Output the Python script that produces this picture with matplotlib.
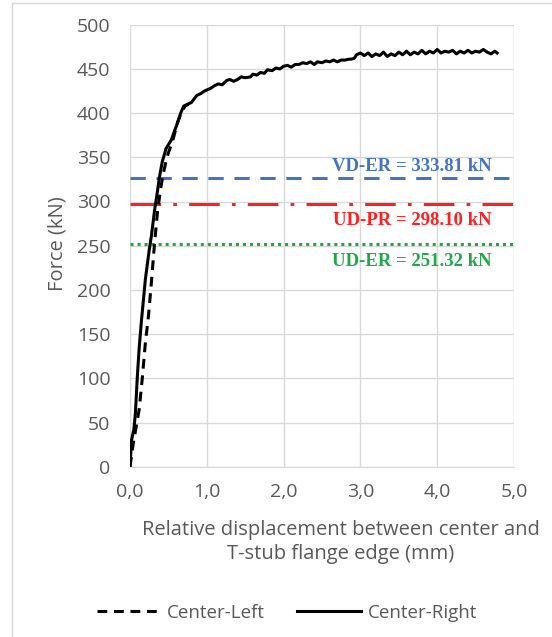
import matplotlib
matplotlib.use("Agg")
import matplotlib.pyplot as plt
from matplotlib.lines import Line2D

# ---------------- data ----------------
right_x = [0.0, 0.02, 0.05, 0.07, 0.095, 0.12, 0.15, 0.20, 0.25, 0.28, 0.32, 0.36, 0.38,
           0.42, 0.47, 0.54, 0.58, 0.62, 0.66, 0.70, 0.75, 0.80, 0.87, 0.92, 0.97,
           1.05, 1.10, 1.15, 1.20, 1.26, 1.30, 1.35, 1.40, 1.45, 1.50, 1.57, 1.60,
           1.65, 1.70, 1.75, 1.79, 1.85, 1.90, 1.95, 2.00, 2.05, 2.10, 2.15, 2.20,
           2.25, 2.30, 2.35, 2.40, 2.44, 2.50, 2.55, 2.60, 2.65, 2.70, 2.75, 2.80,
           2.85, 2.88, 2.92, 2.95, 3.00, 3.05, 3.10, 3.15, 3.20, 3.25, 3.30, 3.35,
           3.40, 3.45, 3.50, 3.55, 3.60, 3.65, 3.70, 3.75, 3.80, 3.85, 3.90, 3.95,
           4.00, 4.05, 4.10, 4.15, 4.20, 4.25, 4.30, 4.35, 4.40, 4.45, 4.50, 4.55,
           4.60, 4.65, 4.70, 4.75, 4.78]
right_y = [0, 30, 42, 60, 101, 135, 166, 212, 245, 262, 290, 313, 326,
           345, 360, 370, 380, 389, 400, 408, 410, 412, 420, 422, 425,
           428, 431, 433, 432, 437, 438, 436, 438, 441, 440, 441, 444,
           443, 446, 445, 449, 448, 451, 450, 453, 454, 452, 455, 455,
           457, 456, 458, 455, 458, 457, 459, 458, 460, 458, 460, 460,
           461, 461, 462, 466, 468, 465, 468, 464, 467, 465, 469, 464,
           467, 465, 469, 466, 470, 466, 469, 467, 471, 467, 470, 468,
           472, 468, 470, 469, 471, 467, 470, 468, 471, 468, 470, 469,
           472, 469, 467, 470, 468]

left_x = [0.0, 0.04, 0.08, 0.12, 0.16, 0.20, 0.24, 0.28, 0.32, 0.36, 0.40, 0.43,
          0.48, 0.56, 0.62, 0.68, 0.72, 0.76]
left_y = [0, 25, 45, 65, 100, 140, 170, 210, 253, 290, 315, 330,
          350, 370, 390, 403, 408, 410]

ref_values = [327, 297, 252]
ref_labels = ["VD-ER = 333.81 kN", "UD-PR = 298.10 kN", "UD-ER = 251.32 kN"]
ref_colors = ["#4472C4", "#FF1F1F", "#1FA84A"]
ref_label_y = [340, 279, 232]

x_ticks = [0, 1, 2, 3, 4, 5]
x_ticklabels = ["0,0", "1,0", "2,0", "3,0", "4,0", "5,0"]
y_ticks = list(range(0, 501, 50))

# ---------------- figure ----------------
fig = plt.figure(figsize=(5.52, 6.37), dpi=100)
ax = fig.add_axes([130/552, 1-466.7/637, 384/552, 442/637])

grid_c = "#D9D9D9"
text_c = "#595959"
font = "Open Sans"

ax.set_xlim(0, 5)
ax.set_ylim(0, 500)
ax.set_xticks(x_ticks)
ax.set_xticklabels(x_ticklabels)
ax.set_yticks(y_ticks)
ax.grid(True, color=grid_c, linewidth=1.0)
ax.set_axisbelow(True)
for s in ["top", "right", "left"]:
    ax.spines[s].set_visible(False)
ax.spines["bottom"].set_color(grid_c)
ax.tick_params(axis="both", length=0, labelsize=14, labelcolor=text_c)
ax.tick_params(axis="x", pad=12)
ax.tick_params(axis="y", pad=14)
for lab in ax.get_xticklabels() + ax.get_yticklabels():
    lab.set_fontfamily(font)

# reference lines
ax.axhline(ref_values[0], color=ref_colors[0], lw=2.2, dashes=(5, 3.5), clip_on=False)
ax.axhline(ref_values[1], color=ref_colors[1], lw=2.2, dashes=(10, 4, 1.2, 4), clip_on=False)
ax.axhline(ref_values[2], color=ref_colors[2], lw=2.2, dashes=(1, 1.3), clip_on=False)
for v, lab, c, ly in zip(ref_values, ref_labels, ref_colors, ref_label_y):
    ax.text(3.67, ly, lab, color=c, ha="center", va="center",
            fontfamily="Liberation Serif", fontweight="bold", fontsize=13.5)

# curves
ax.plot(left_x, left_y, color="black", lw=2.2, dashes=(3.2, 2.2), label="Center-Left")
ax.plot(right_x, right_y, color="black", lw=2.2, label="Center-Right")

# labels
fig.text(341/552, 1-542/637, "Relative displacement between center and\nT-stub flange edge (mm)",
         ha="center", va="center", fontsize=14.5, color=text_c, fontfamily=font,
         linespacing=1.3)
fig.text(57/552, 1-244/637, "Force (kN)", rotation=90, ha="center", va="center",
         fontsize=14.5, color=text_c, fontfamily=font)

# legend
handles = [Line2D([], [], color="black", lw=2.2, dashes=(3.2, 2.2)),
           Line2D([], [], color="black", lw=2.2)]
leg = fig.legend(handles, ["Center-Left", "Center-Right"], loc="center",
                 bbox_to_anchor=(287/552, 1-613/637), ncol=2, frameon=False,
                 handlelength=3.4, handletextpad=0.35, columnspacing=1.7,
                 prop={"family": font, "size": 13.5})
for t in leg.get_texts():
    t.set_color(text_c)

# chart area border
fig.add_artist(Line2D([12/552, 12/552], [0, 1-3/637], color=grid_c, lw=1.0,
                      transform=fig.transFigure))
fig.add_artist(Line2D([12/552, 1], [1-3/637, 1-3/637], color=grid_c, lw=1.0,
                      transform=fig.transFigure))

fig.savefig("out.png", dpi=100)
